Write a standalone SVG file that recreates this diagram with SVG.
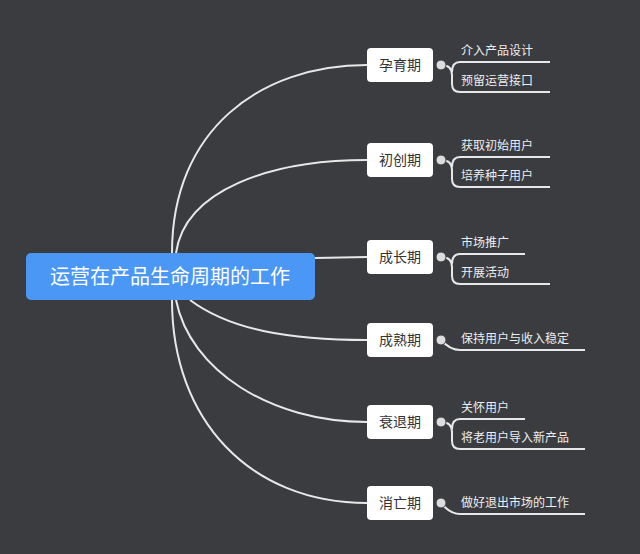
<svg xmlns="http://www.w3.org/2000/svg" width="640" height="554" viewBox="0 0 640 554">
<style>
.c{fill:none;stroke:#e8e8e8;stroke-width:2}
.n{fill:#fff;stroke:none}
.t{font-family:"Noto Sans CJK SC",sans-serif;font-size:14px;fill:#333;text-anchor:middle}
.l{font-family:"Noto Sans CJK SC",sans-serif;font-size:12px;fill:#eee}
.k{fill:#ddd;stroke:#3a3c40;stroke-width:1}
</style>
<rect width="640" height="554" fill="#3a3c40"/>
<g id="connectors">
<path class="c" d="M172,253 C172,130 260,65 367,65"/>
<path class="c" d="M176,253 C185,190 270,160 367,160"/>
<path class="c" d="M315,258 L367,257"/>
<path class="c" d="M190,300 C230,330 290,340 367,340"/>
<path class="c" d="M176,300 C190,370 270,422 367,422"/>
<path class="c" d="M172,300 C172,420 250,503 367,503"/>
<path class="c" d="M441,65 Q452,65 452,75 L452,84 Q452,92 460,92 L550,92 M452,72 Q452,62 460,62 L550,62"/>
<path class="c" d="M441,160 Q452,160 452,170 L452,179 Q452,187 460,187 L550,187 M452,167 Q452,157 460,157 L550,157"/>
<path class="c" d="M441,257 Q452,257 452,267 L452,276 Q452,284 460,284 L550,284 M452,264 Q452,254 460,254 L525,254"/>
<path class="c" d="M441,340 Q450,350 460,350 L585,350"/>
<path class="c" d="M441,422 Q452,422 452,432 L452,441 Q452,449 460,449 L585,449 M452,429 Q452,419 460,419 L525,419"/>
<path class="c" d="M441,503 Q450,514 460,514 L585,514"/>
</g>
<g id="root"><rect x="26" y="253" width="289" height="47" rx="5" fill="#4a97f5"/><text x="170" y="284" font-family="Noto Sans CJK SC,sans-serif" font-size="20" fill="#fff" text-anchor="middle">运营在产品生命周期的工作</text></g>
<g id="n1"><rect class="n" x="367" y="48" width="66" height="34" rx="4"/><text class="t" x="400" y="70">孕育期</text><circle class="k" cx="441" cy="65" r="5"/><text class="l" x="461" y="55">介入产品设计</text><text class="l" x="461" y="85">预留运营接口</text></g>
<g id="n2"><rect class="n" x="367" y="143" width="66" height="34" rx="4"/><text class="t" x="400" y="165">初创期</text><circle class="k" cx="441" cy="160" r="5"/><text class="l" x="461" y="150">获取初始用户</text><text class="l" x="461" y="180">培养种子用户</text></g>
<g id="n3"><rect class="n" x="367" y="240" width="66" height="34" rx="4"/><text class="t" x="400" y="262">成长期</text><circle class="k" cx="441" cy="257" r="5"/><text class="l" x="461" y="247">市场推广</text><text class="l" x="461" y="277">开展活动</text></g>
<g id="n4"><rect class="n" x="367" y="323" width="66" height="34" rx="4"/><text class="t" x="400" y="345">成熟期</text><circle class="k" cx="441" cy="340" r="5"/><text class="l" x="461" y="343">保持用户与收入稳定</text></g>
<g id="n5"><rect class="n" x="367" y="405" width="66" height="34" rx="4"/><text class="t" x="400" y="427">衰退期</text><circle class="k" cx="441" cy="422" r="5"/><text class="l" x="461" y="412">关怀用户</text><text class="l" x="461" y="442">将老用户导入新产品</text></g>
<g id="n6"><rect class="n" x="367" y="486" width="66" height="34" rx="4"/><text class="t" x="400" y="508">消亡期</text><circle class="k" cx="441" cy="503" r="5"/><text class="l" x="461" y="507">做好退出市场的工作</text></g>
</svg>
